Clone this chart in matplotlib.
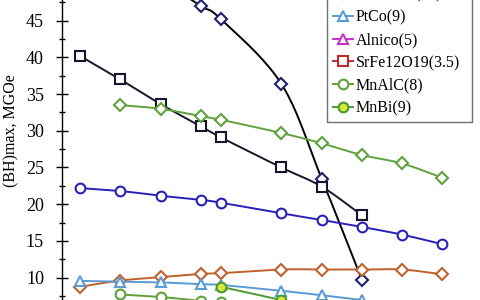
import matplotlib
matplotlib.use("Agg")
import matplotlib.pyplot as plt
import numpy as np
from matplotlib.ticker import MultipleLocator

# temperatures (K) and (BH)max values
temps = [50, 100, 150, 200, 225, 300, 350, 400, 450, 500]

nd_t = [50, 100, 150, 200, 225, 300, 350, 400]
nd_v = [53.0, 52.0, 50.4, 47.0, 45.2, 36.4, 23.5, 9.7]

smco5_t = [50, 100, 150, 200, 225, 300, 350, 400]
smco5_v = [40.2, 37.0, 33.65, 30.6, 29.1, 25.0, 22.4, 18.5]

sm2co17_t = [100, 150, 200, 225, 300, 350, 400, 450, 500]
sm2co17_v = [33.5, 33.0, 32.0, 31.5, 29.7, 28.3, 26.7, 25.55, 23.6]

fept_t = temps
fept_v = [22.2, 21.8, 21.15, 20.6, 20.2, 18.75, 17.85, 16.9, 15.85, 14.55]

ce2co17_t = temps
ce2co17_v = [8.75, 9.6, 10.05, 10.5, 10.6, 11.1, 11.1, 11.1, 11.1, 10.45]

ptco_t = [50, 100, 150, 200, 225, 300, 350, 400]
ptco_v = [9.55, 9.45, 9.35, 9.1, 9.0, 8.2, 7.6, 6.95]

alnico_t = [50, 100, 150, 200, 225, 300, 350, 400, 450, 500]
alnico_v = [5.4, 5.35, 5.3, 5.2, 5.15, 5.0, 4.9, 4.8, 4.7, 4.6]

srfe_t = [50, 100, 150, 200, 225, 300, 350, 400, 450, 500]
srfe_v = [2.2, 2.6, 3.0, 3.3, 3.4, 3.5, 3.5, 3.4, 3.2, 3.0]

mnalc_t = [100, 150, 200, 225, 300, 350, 400]
mnalc_v = [7.7, 7.35, 6.85, 6.7, 6.0, 5.5, 5.0]

mnbi_t = [225, 300]
mnbi_v = [8.75, 6.95]

labels = ["Nd2Fe14B(36)", "SmCo5(25)", "Sm2Co17(30)", "FePt(19)", "Ce2Co17(11)",
          "PtCo(9)", "Alnico(5)", "SrFe12O19(3.5)", "MnAlC(8)", "MnBi(9)"]

plt.rcParams['font.family'] = ['Liberation Serif', 'DejaVu Serif']

NSEG = 20


def smooth(x, y, n=NSEG):
    # Catmull-Rom curve through the points (like a spreadsheet "smoothed line")
    x = np.asarray(x, float)
    y = np.asarray(y, float)
    if len(x) < 3:
        return x, y
    px = np.concatenate([[2 * x[0] - x[1]], x, [2 * x[-1] - x[-2]]])
    py = np.concatenate([[2 * y[0] - y[1]], y, [2 * y[-1] - y[-2]]])
    xs, ys = [], []
    t = np.linspace(0, 1, n, endpoint=False)
    for i in range(1, len(px) - 2):
        for arr, out in ((px, xs), (py, ys)):
            p0, p1, p2, p3 = arr[i - 1], arr[i], arr[i + 1], arr[i + 2]
            out.append(0.5 * (2 * p1 + (-p0 + p2) * t + (2 * p0 - 5 * p1 + 4 * p2 - p3) * t ** 2
                              + (-p0 + 3 * p1 - 3 * p2 + p3) * t ** 3))
    xs = np.concatenate(xs + [[x[-1]]])
    ys = np.concatenate(ys + [[y[-1]]])
    return xs, ys


fig = plt.figure(figsize=(4.8, 3.0), dpi=100)
# axes larger than the figure: the reference is a crop of a bigger chart
ax = fig.add_axes([62 / 480, -51 / 300, 461 / 480, 440.4 / 300])

series = [
    (nd_t, nd_v, 'D', 'black', '#1f1f6e', 'white'),
    (smco5_t, smco5_v, 's', '#15152e', '#15152e', 'white'),
    (sm2co17_t, sm2co17_v, 'D', '#5fa23e', '#5fa23e', 'white'),
    (fept_t, fept_v, 'o', '#2a20b8', '#2a20b8', 'white'),
    (ce2co17_t, ce2co17_v, 'D', '#c0622c', '#c0622c', 'white'),
    (ptco_t, ptco_v, '^', '#5b9bd5', '#5b9bd5', 'white'),
    (alnico_t, alnico_v, '^', '#c832c8', '#c832c8', 'white'),
    (srfe_t, srfe_v, 's', '#c0282e', '#c0282e', 'white'),
    (mnalc_t, mnalc_v, 'o', '#5ea33a', '#5ea33a', 'white'),
    (mnbi_t, mnbi_v, 'o', '#4f9a2c', '#4f9a2c', '#d6ea3c'),
]

for (t, v, m, lc, ec, fc), lab in zip(series, labels):
    xs, ys = smooth(t, v)
    idx = list(range(0, len(xs), NSEG)) if len(t) >= 3 else list(range(len(t)))
    ms = 7 if m == 'o' else 6.5
    ax.plot(xs, ys, color=lc, lw=1.4, marker=m, markevery=idx, ms=ms,
            mec=ec, mfc=fc, mew=1.5, label=lab)

ax.set_xlim(27.7, 600)
ax.set_ylim(0, 60)
ax.yaxis.set_major_locator(MultipleLocator(5))
ax.yaxis.set_minor_locator(MultipleLocator(2.5))
ax.tick_params(axis='y', which='major', direction='inout', length=8, width=1,
               labelsize=13, pad=9)
ax.tick_params(axis='y', which='minor', direction='inout', length=4, width=1)
ax.set_xticks([])
for s in ax.spines.values():
    s.set_linewidth(1)

ax.set_ylabel("(BH)max, MGOe", fontsize=11.5)
ax.yaxis.set_label_coords(-0.093, 0.5)

leg = ax.legend(loc='lower left', mode='expand',
                bbox_to_anchor=(327 / 480, 178 / 300, 145 / 480, 0),
                bbox_transform=fig.transFigure, borderaxespad=0, fontsize=11.5,
                frameon=True, fancybox=False, edgecolor='#707070',
                handlelength=1.3, handletextpad=0.15, labelspacing=0.42,
                borderpad=0.35)
leg.get_frame().set_linewidth(1)
leg.get_frame().set_alpha(1)

fig.savefig("out.png", dpi=100)
